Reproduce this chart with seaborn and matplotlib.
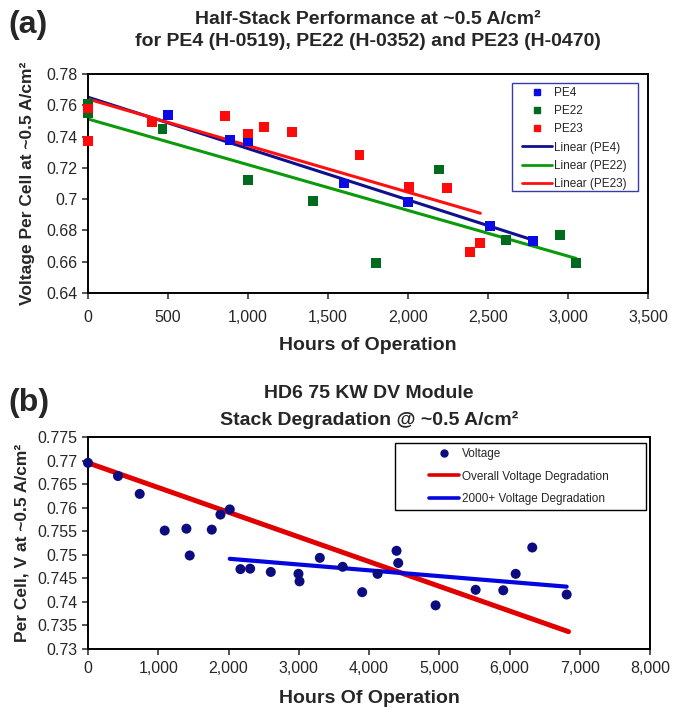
#!/usr/bin/env python3
# -*- coding: utf-8 -*-
"""
半堆栈 / 模块电压衰减图 (a) PE4/PE22/PE23  (b) HD6 75 KW DV Module
"""

import numpy as np
import pandas as pd
import matplotlib
matplotlib.use('Agg')
import matplotlib.pyplot as plt
from matplotlib.ticker import FuncFormatter, MultipleLocator
from matplotlib.lines import Line2D
from matplotlib.patches import Rectangle
import seaborn as sns

# ---------------- 数据 (a) ----------------
pe4_hours = [0, 500, 890, 1000, 1600, 2000, 2510, 2780]
pe4_volts = [0.758, 0.754, 0.738, 0.737, 0.710, 0.698, 0.683, 0.673]

pe22_hours = [0, 0, 466, 1000, 1405, 1800, 2195, 2615, 2950, 3050]
pe22_volts = [0.761, 0.755, 0.745, 0.712, 0.699, 0.659, 0.719, 0.674, 0.677, 0.659]

pe23_hours = [0, 0, 400, 855, 1000, 1100, 1277, 1697, 2004, 2244, 2385, 2452]
pe23_volts = [0.758, 0.737, 0.749, 0.753, 0.742, 0.746, 0.743, 0.728, 0.708, 0.707, 0.666, 0.672]

# ---------------- 数据 (b) ----------------
hd6_hours = [0, 427, 736, 1092, 1401, 1448, 1762, 1885, 2018, 2170, 2308, 2602,
             2996, 3011, 3300, 3625, 3903, 4122, 4392, 4416, 4948, 5518, 5911,
             6088, 6324, 6814]
hd6_volts = [0.7695, 0.7667, 0.7629, 0.7551, 0.7555, 0.7498, 0.7553, 0.7585,
             0.7596, 0.7469, 0.7470, 0.7463, 0.7459, 0.7443, 0.7493, 0.7474,
             0.7420, 0.7459, 0.7508, 0.7482, 0.7392, 0.7425, 0.7424, 0.7459,
             0.7515, 0.7415]

# 原图中的总体衰减趋势线 (读图得到的端点)
overall_hours = [0, 6840]
overall_volts = [0.7695, 0.7336]

sns.set_style('ticks')
plt.rcParams['font.family'] = ['Liberation Sans', 'DejaVu Sans']
plt.rcParams['axes.linewidth'] = 1.4
plt.rcParams['xtick.major.width'] = 1.1
plt.rcParams['ytick.major.width'] = 1.1

W, H = 681, 713
fig = plt.figure(figsize=(W / 100, H / 100), dpi=100)
fig.patch.set_facecolor('white')


def fx(px):
    return px / W


def fy(py):
    return 1 - py / H


comma_fmt = FuncFormatter(lambda v, p: f'{v:,.0f}')
g_fmt = FuncFormatter(lambda v, p: f'{round(v, 4):g}')

# ================= (a) =================
ax1 = fig.add_axes([fx(88), fy(293), fx(648) - fx(88), fy(74) - fy(293)])

series_a = [
    ('PE4', pe4_hours, pe4_volts, '#0a0ae6', '#10108c'),
    ('PE22', pe22_hours, pe22_volts, '#006a1e', '#0a9a0a'),
    ('PE23', pe23_hours, pe23_volts, '#ff0a0a', '#ff1010'),
]

for name, hrs, vol, mcol, lcol in series_a:
    sns.regplot(x=np.array(hrs, float), y=np.array(vol), ax=ax1, scatter=False, ci=None,
                truncate=True, color=lcol, line_kws={'linewidth': 2.2, 'zorder': 2})
for name, hrs, vol, mcol, lcol in series_a:
    sns.scatterplot(x=hrs, y=vol, ax=ax1, marker='s', s=50, color=mcol,
                    edgecolor='none', linewidth=0, zorder=3, clip_on=False)

ax1.set_xlim(0, 3500)
ax1.set_ylim(0.64, 0.78)
ax1.xaxis.set_major_locator(MultipleLocator(500))
ax1.yaxis.set_major_locator(MultipleLocator(0.02))
ax1.xaxis.set_major_formatter(comma_fmt)
ax1.yaxis.set_major_formatter(g_fmt)
ax1.tick_params(labelsize=11.5, length=4, direction='out')
ax1.tick_params(axis='x', pad=8)
ax1.set_xlabel('Hours of Operation', fontsize=14, fontweight='bold', labelpad=9)
ax1.set_ylabel('Voltage Per Cell at ~0.5 A/cm²', fontsize=12.5, fontweight='bold', labelpad=8)
for sp in ax1.spines.values():
    sp.set_color('black')

handles_a = []
for name, hrs, vol, mcol, lcol in series_a:
    handles_a.append(Line2D([], [], marker='s', color=mcol, linestyle='none',
                            markersize=4.5, label=name))
for name, hrs, vol, mcol, lcol in series_a:
    handles_a.append(Line2D([], [], color=lcol, linewidth=2, label=f'Linear ({name})'))
ax1.add_patch(Rectangle((0.757, 0.466), 0.225, 0.493, transform=ax1.transAxes,
                        facecolor='white', edgecolor='#3a3aa8', linewidth=1.0, zorder=4))
leg1 = ax1.legend(handles=handles_a, loc='upper left', bbox_to_anchor=(0.775, 0.94),
                  fontsize=8.5, frameon=False, labelspacing=0.52, borderpad=0,
                  handlelength=2.55, handletextpad=0.2, borderaxespad=0)
leg1.set_zorder(5)

fig.text(fx(368), fy(19), 'Half-Stack Performance at ~0.5 A/cm²', ha='center', va='center',
         fontsize=14, fontweight='bold')
fig.text(fx(368), fy(42), 'for PE4 (H-0519), PE22 (H-0352) and PE23 (H-0470)', ha='center',
         va='center', fontsize=14, fontweight='bold')
fig.text(fx(8), fy(25), '(a)', ha='left', va='center', fontsize=23, fontweight='bold')

# ================= (b) =================
ax2 = fig.add_axes([fx(88), fy(648.6), fx(650) - fx(88), fy(437) - fy(648.6)])

df_b = pd.DataFrame({'hours': hd6_hours, 'volts': hd6_volts})
late = df_b[df_b['hours'] >= 2000]

sns.lineplot(x=overall_hours, y=overall_volts, ax=ax2, color='#e00000', linewidth=3.6,
             zorder=2)
sns.regplot(data=late, x='hours', y='volts', ax=ax2, scatter=False, ci=None, truncate=True,
            color='#0505e0', line_kws={'linewidth': 3.0, 'zorder': 2})
sns.scatterplot(data=df_b, x='hours', y='volts', ax=ax2, marker='o', s=52, color='#0c0c80',
                edgecolor='none', linewidth=0, zorder=3, clip_on=False)

ax2.set_xlim(0, 8000)
ax2.set_ylim(0.73, 0.775)
ax2.xaxis.set_major_locator(MultipleLocator(1000))
ax2.yaxis.set_major_locator(MultipleLocator(0.005))
ax2.xaxis.set_major_formatter(comma_fmt)
ax2.yaxis.set_major_formatter(g_fmt)
ax2.tick_params(labelsize=11.5, length=4, direction='out')
ax2.tick_params(axis='x', pad=5)
ax2.set_xlabel('Hours Of Operation', fontsize=14, fontweight='bold', labelpad=10)
ax2.set_ylabel('Per Cell, V at ~0.5 A/cm²', fontsize=12.5, fontweight='bold', labelpad=6)
for sp in ax2.spines.values():
    sp.set_color('black')

handles_b = [
    Line2D([], [], marker='o', color='#0c0c80', linestyle='none', markersize=5, label='Voltage'),
    Line2D([], [], color='#e00000', linewidth=2.6, label='Overall Voltage Degradation'),
    Line2D([], [], color='#0505e0', linewidth=2.6, label='2000+ Voltage Degradation'),
]
ax2.add_patch(Rectangle((0.546, 0.655), 0.447, 0.317, transform=ax2.transAxes,
                        facecolor='white', edgecolor='black', linewidth=1.0, zorder=4))
leg2 = ax2.legend(handles=handles_b, loc='upper left', bbox_to_anchor=(0.607, 0.948),
                  fontsize=8.5, frameon=False, labelspacing=0.9, borderpad=0,
                  handlelength=2.5, handletextpad=0.25, borderaxespad=0)
leg2.set_zorder(5)

fig.text(fx(369), fy(393), 'HD6 75 KW DV Module', ha='center', va='center',
         fontsize=14, fontweight='bold')
fig.text(fx(369), fy(420), 'Stack Degradation @ ~0.5 A/cm²', ha='center', va='center',
         fontsize=14, fontweight='bold')
fig.text(fx(8), fy(403), '(b)', ha='left', va='center', fontsize=23, fontweight='bold')

fig.savefig('out.png', dpi=100, facecolor='white')
